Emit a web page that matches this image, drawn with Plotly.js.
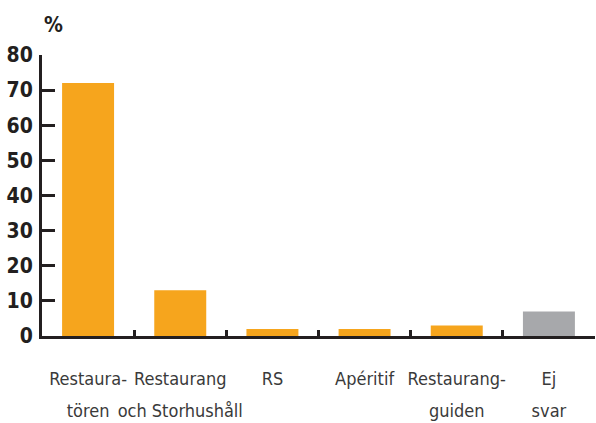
<!DOCTYPE html>
<html><head><meta charset="utf-8">
<script src="https://cdn.plot.ly/plotly-3.0.1.min.js"></script>
<style>body{margin:0;background:#fff}#c{width:596px;height:423px}</style>
</head><body><div id="c"></div>
<script>
const categories = ["Restaura-<br>tören", "Restaurang<br>och Storhushåll", "RS", "Apéritif", "Restaurang-<br>guiden", "Ej<br>svar"];
const values = [72, 13, 2, 2, 3, 7];
const barColors = ["#F6A51D", "#F6A51D", "#F6A51D", "#F6A51D", "#F6A51D", "#A7A8AB"];
const yTicks = [0, 10, 20, 30, 40, 50, 60, 70, 80];

const FONT = "'DejaVu Sans Condensed', 'Liberation Sans Narrow', 'Roboto Condensed', 'Noto Sans', sans-serif";
const labelText = categories.map(c => c.split("<br>").map(l => '<span style="font-size:18px">' + l + '</span>').join("<br>"));

const trace = {
  type: "bar",
  x: categories.map((c, i) => i),
  y: values,
  marker: {color: barColors},
  hoverinfo: "none"
};

const layout = {
  width: 596, height: 423,
  margin: {l: 42, r: 1, t: 55, b: 87},
  paper_bgcolor: "#fff", plot_bgcolor: "#fff",
  bargap: 0.436,
  showlegend: false,
  font: {family: FONT, color: "#231F20"},
  xaxis: {
    type: "category",
    tickvals: categories.map((c, i) => i),
    ticktext: labelText,
    tickson: "boundaries",
    tickangle: 0,
    ticks: "inside", ticklen: 6, tickwidth: 3, tickcolor: "#231F20",
    showline: true, linewidth: 3, linecolor: "#231F20",
    showgrid: false, zeroline: false,
    tickfont: {family: FONT, size: 24.6, color: "#3a3a3a"},
    ticklabelstandoff: 16,
    range: [-0.5, 5.5], fixedrange: true
  },
  yaxis: {
    range: [0, 80],
    tickvals: yTicks,
    ticks: "inside", ticklen: 13, tickwidth: 3, tickcolor: "#231F20",
    showline: true, linewidth: 3, linecolor: "#231F20",
    showgrid: false, zeroline: false,
    tickfont: {family: FONT, size: 21, weight: "bold", color: "#231F20"},
    ticklabelstandoff: 2
  },
  annotations: [{
    xref: "paper", yref: "paper", x: 0, y: 1, xanchor: "left", yanchor: "bottom",
    yshift: 16, xshift: 0,
    text: "%", showarrow: false,
    font: {family: FONT, size: 21, weight: "bold", color: "#231F20"}
  }]
};

Plotly.newPlot("c", [trace], layout, {staticPlot: true, displayModeBar: false});
</script>
</body></html>
